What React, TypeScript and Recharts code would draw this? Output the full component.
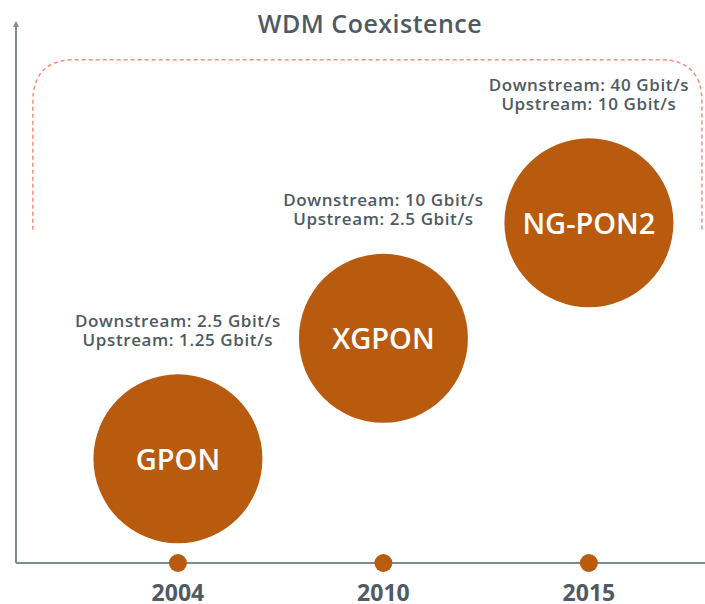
import React from "react";
import {
  ComposedChart,
  Scatter,
  XAxis,
  YAxis,
  ReferenceArea,
  ReferenceDot,
  ReferenceLine,
} from "recharts";

const years = ["2004", "2010", "2015"];
const technologies = ["GPON", "XGPON", "NG-PON2"];
const downstream = ["2.5 Gbit/s", "10 Gbit/s", "40 Gbit/s"];
const upstream = ["1.25 Gbit/s", "2.5 Gbit/s", "10 Gbit/s"];
const levels = [19.3, 41.6, 63];
const xTicks = [0, 1, 2];

const CIRCLE_COLOR = "#b95b0f";
const TEXT_COLOR = "#4f5a63";
const AXIS_COLOR = "#7f8990";
const DASH_COLOR = "#f0917a";
const FONT = "'Open Sans', sans-serif";

const X_MIN = -0.788;
const X_MAX = 2.565;

const bubbles = technologies.map((name, i) => ({
  x: i,
  y: levels[i],
  name,
  down: downstream[i],
  up: upstream[i],
}));
const axisDots = years.map((year, i) => ({ x: i, y: 0, year }));

const BubbleShape = (props: any) => {
  const { cx, cy, payload } = props;
  return (
    <g>
      <circle cx={cx} cy={cy} r={84.5} fill={CIRCLE_COLOR} />
      <text
        x={cx}
        y={cy + 11}
        textAnchor="middle"
        fill="#ffffff"
        fontFamily={FONT}
        fontWeight={600}
        fontSize={29}
      >
        {payload.name}
      </text>
      <text
        x={cx}
        y={cy - 132}
        textAnchor="middle"
        fill={TEXT_COLOR}
        fontFamily={FONT}
        fontWeight={600}
        fontSize={17}
        letterSpacing={0.6}
      >
        {"Downstream: " + payload.down}
      </text>
      <text
        x={cx}
        y={cy - 113}
        textAnchor="middle"
        fill={TEXT_COLOR}
        fontFamily={FONT}
        fontWeight={600}
        fontSize={17}
        letterSpacing={0.6}
      >
        {"Upstream: " + payload.up}
      </text>
    </g>
  );
};

const AxisDotShape = (props: any) => {
  const { cx, cy } = props;
  return <circle cx={cx} cy={cy} r={9} fill={CIRCLE_COLOR} />;
};

const BracketShape = (props: any) => {
  const { x, y, width, height } = props;
  const r = 42;
  const left = x;
  const right = x + width;
  const top = y;
  const bottom = y + height;
  const d = `M ${left} ${bottom} L ${left} ${top + r} Q ${left} ${top} ${left + r} ${top} L ${right - r} ${top} Q ${right} ${top} ${right} ${top + r} L ${right} ${bottom}`;
  return (
    <path
      d={d}
      fill="none"
      stroke={DASH_COLOR}
      strokeWidth={1.5}
      strokeDasharray="4 3"
    />
  );
};

const ArrowShape = (props: any) => {
  const { cx, cy } = props;
  return (
    <path
      d={`M ${cx} ${cy - 2} L ${cx + 3} ${cy + 4} L ${cx - 3} ${cy + 4} Z`}
      fill={AXIS_COLOR}
    />
  );
};

const YearTick = (props: any) => {
  const { x, y, payload } = props;
  return (
    <text
      x={x}
      y={y + 38}
      textAnchor="middle"
      fill={TEXT_COLOR}
      fontFamily={FONT}
      fontWeight={700}
      fontSize={23}
    >
      {years[payload.value]}
    </text>
  );
};

export default function App() {
  return (
    <div
      style={{
        position: "absolute",
        left: 0,
        top: 0,
        width: 705,
        height: 604,
        background: "#ffffff",
      }}
    >
      <div
        style={{
          position: "absolute",
          left: 370,
          top: 6,
          transform: "translateX(-50%)",
          fontFamily: FONT,
          fontWeight: 600,
          fontSize: 25,
          letterSpacing: 0.5,
          color: TEXT_COLOR,
          whiteSpace: "nowrap",
          lineHeight: "34px",
        }}
      >
        WDM Coexistence
      </div>
      <ComposedChart
        width={705}
        height={604}
        margin={{ top: 23, right: 0, left: 16, bottom: 0 }}
      >
        <XAxis
          dataKey="x"
          type="number"
          domain={[X_MIN, X_MAX]}
          allowDataOverflow
          ticks={xTicks}
          tick={<YearTick />}
          tickLine={false}
          tickSize={0}
          tickMargin={0}
          height={41}
          axisLine={{ stroke: AXIS_COLOR, strokeWidth: 2 }}
          interval={0}
        />
        <YAxis
          dataKey="y"
          type="number"
          domain={[0, 100]}
          allowDataOverflow
          width={0}
          tick={false}
          tickLine={false}
          axisLine={false}
        />
        <ReferenceLine
          x={X_MIN}
          stroke={AXIS_COLOR}
          strokeWidth={2}
          ifOverflow="visible"
        />
        <ReferenceArea
          x1={-0.706}
          x2={2.55}
          y1={61.7}
          y2={93.2}
          ifOverflow="visible"
          shape={<BracketShape />}
        />
        <ReferenceDot
          x={X_MIN}
          y={100}
          ifOverflow="visible"
          shape={<ArrowShape />}
        />
        {axisDots.map((d) => (
          <ReferenceDot
            key={d.year}
            x={d.x}
            y={d.y}
            ifOverflow="visible"
            shape={<AxisDotShape />}
          />
        ))}
        <Scatter
          data={bubbles}
          shape={<BubbleShape />}
          isAnimationActive={false}
        />
      </ComposedChart>
    </div>
  );
}
